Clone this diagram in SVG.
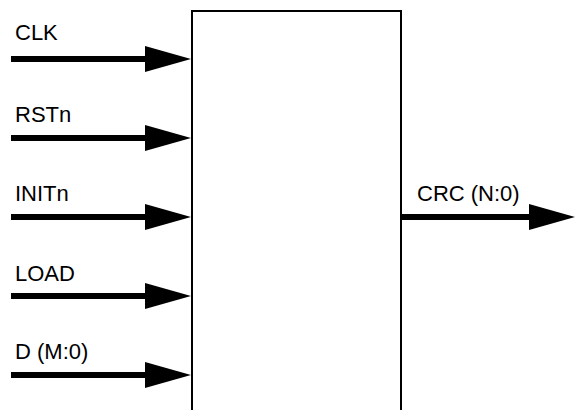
<svg xmlns="http://www.w3.org/2000/svg" width="575" height="410" viewBox="0 0 575 410">
  <style>
    .lbl { font-family: "Liberation Sans", Arial, sans-serif; font-size: 22px; fill: #000; }
    .wire { stroke: #000; stroke-width: 6; fill: none; }
    .head { fill: #000; }
    .block { fill: #fff; stroke: #000; stroke-width: 2; }
  </style>
  <defs>
    <!-- arrowhead: tip at origin, pointing right -->
    <polygon id="ah" class="head" points="-46,-13 0,0 -46,13"/>
  </defs>

  <!-- CRC block (extends past bottom edge) -->
  <g id="crc-block">
    <rect class="block" x="192" y="11" width="209" height="420"/>
  </g>

  <g id="connectors">
    <line class="wire" x1="11" y1="59" x2="150" y2="59"/>
    <use href="#ah" x="191" y="59"/>
    <line class="wire" x1="11" y1="138" x2="150" y2="138"/>
    <use href="#ah" x="191" y="138"/>
    <line class="wire" x1="11" y1="217" x2="150" y2="217"/>
    <use href="#ah" x="191" y="217"/>
    <line class="wire" x1="11" y1="296" x2="150" y2="296"/>
    <use href="#ah" x="191" y="296"/>
    <line class="wire" x1="11" y1="375" x2="150" y2="375"/>
    <use href="#ah" x="191" y="375"/>
    <line class="wire" x1="402" y1="217" x2="540" y2="217"/>
    <use href="#ah" x="575" y="217"/>
  </g>

  <g id="port-clk"><text class="lbl" x="15" y="40">CLK</text></g>
  <g id="port-rstn"><text class="lbl" x="15" y="122">RSTn</text></g>
  <g id="port-initn"><text class="lbl" x="15" y="201">INITn</text></g>
  <g id="port-load"><text class="lbl" x="15" y="281">LOAD</text></g>
  <g id="port-d"><text class="lbl" x="15" y="359">D (M:0)</text></g>
  <g id="port-crc"><text class="lbl" x="417" y="201">CRC (N:0)</text></g>
</svg>
